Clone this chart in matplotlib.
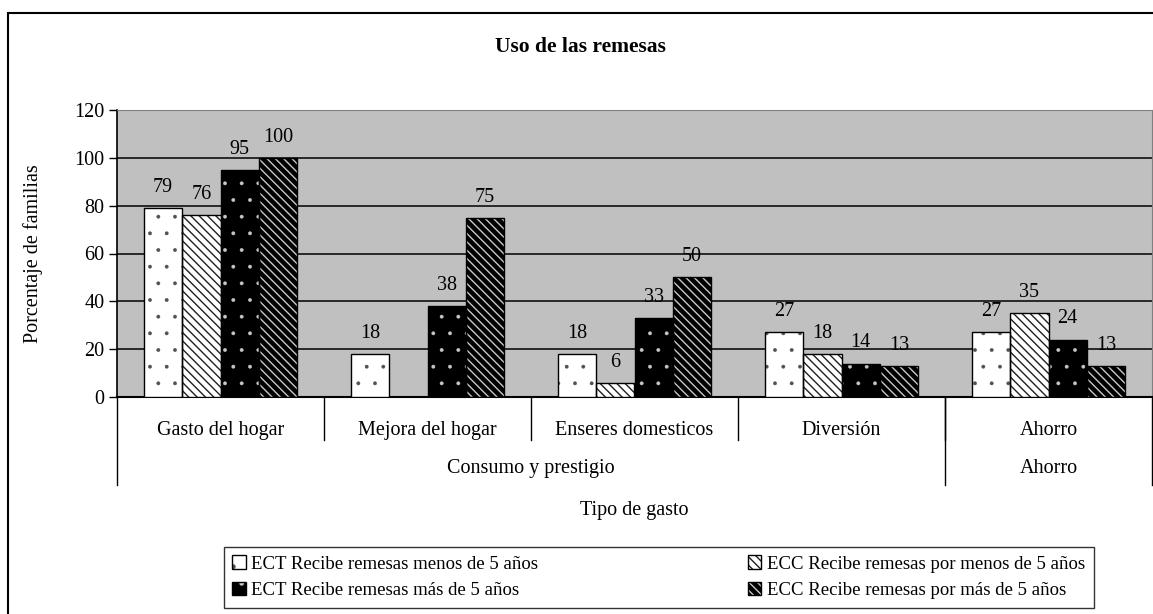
import numpy as np
import matplotlib
matplotlib.use("Agg")
import matplotlib.pyplot as plt
from matplotlib.patches import Patch, Rectangle
from matplotlib.legend_handler import HandlerTuple

# ---- data ----
categories = ["Gasto del hogar", "Mejora del hogar", "Enseres domesticos", "Diversión", "Ahorro"]
groups = [("Consumo y prestigio", 0, 3), ("Ahorro", 4, 4)]
series_names = [
    "ECT Recibe remesas menos de 5 años",
    "ECC Recibe remesas por menos de 5 años",
    "ECT Recibe remesas más de 5 años",
    "ECC Recibe remesas por más de 5 años",
]
ect_menos5 = [79, 18, 18, 27, 27]
ecc_menos5 = [76, np.nan, 6, 18, 35]
ect_mas5 = [95, 38, 33, 14, 24]
ecc_mas5 = [100, 75, 50, 13, 13]
yticks = [0, 20, 40, 60, 80, 100, 120]

series = [ect_menos5, ecc_menos5, ect_mas5, ecc_mas5]
# style: (face, hatch colour, hatch, hatch linewidth)
styles = [
    ("white", "#505050", ".", 0.3),
    ("white", "#202020", "\\\\\\\\", 1.0),
    ("black", "#c8c8c8", ".", 0.3),
    ("black", "#c8c8c8", "\\\\\\\\", 1.0),
]

plt.rcParams["font.family"] = ["Liberation Serif", "DejaVu Serif"]
FS = 14.5

W, H = 1153, 614
fig = plt.figure(figsize=(W / 100, H / 100), dpi=100)
ax = fig.add_axes([117 / W, 1 - 397 / H, (1152 - 117) / W, (397 - 110) / H])
ax.set_facecolor("#c0c0c0")

x = np.arange(len(categories))
bw = 0.185
offsets = (np.arange(4) - 1.5) * bw
handles = []
for vals, off, (fc, hc, hatch, hlw) in zip(series, offsets, styles):
    v = np.array(vals, dtype=float)
    with plt.rc_context({"hatch.linewidth": hlw}):
        bars = ax.bar(x + off, v, bw, color=fc, edgecolor=hc, hatch=hatch, linewidth=0, zorder=3)
        hp = Patch(facecolor=fc, edgecolor=hc, hatch=hatch, linewidth=0)
    for b in list(bars) + [hp]:
        if hasattr(b, "set_hatch_linewidth"):
            b.set_hatch_linewidth(hlw)
    ax.bar(x + off, v, bw, fill=False, edgecolor="black", linewidth=1.0, zorder=4)
    for xi, vi in zip(x + off, v):
        if not np.isnan(vi):
            ax.annotate(f"{vi:.0f}", (xi, vi), xytext=(0, 8), textcoords="offset points",
                        ha="center", va="bottom", fontsize=FS, zorder=5)
    handles.append((hp, Patch(fill=False, edgecolor="black", linewidth=1.0)))

ax.set_xlim(-0.5, len(categories) - 0.5)
ax.set_ylim(0, 120)
ax.set_yticks(yticks)
ax.tick_params(axis="y", labelsize=FS, length=6, width=1, direction="out", pad=3)
ax.set_xticks([])
ax.yaxis.grid(True, color="black", linewidth=1.1, zorder=1)
ax.set_axisbelow(True)
for s in ["top", "right"]:
    ax.spines[s].set_color("#808080")
ax.spines["left"].set_linewidth(1.2)
ax.spines["bottom"].set_linewidth(1.5)

ax.set_ylabel("Porcentaje de familias", fontsize=FS)
ax.yaxis.set_label_coords(-0.0715, 0.5)

# category table below axis
tr = ax.get_xaxis_transform()
row1, row2 = -0.116, -0.250
inner_bot, outer_bot = -0.150, -0.307
for i, c in enumerate(categories):
    ax.text(i, row1, c, transform=tr, ha="center", va="center", fontsize=FS)
for b in np.arange(0.5, len(categories) - 1, 1.0):
    ax.plot([b, b], [0, inner_bot], transform=tr, color="black", lw=1, clip_on=False)
outer = {-0.5, len(categories) - 0.5}
for name, a, bnd in groups:
    ax.text((a + bnd) / 2, row2, name, transform=tr, ha="center", va="center", fontsize=FS)
    outer.add(a - 0.5)
    outer.add(bnd + 0.5)
for b in sorted(outer):
    ax.plot([b, b], [0, outer_bot], transform=tr, color="black", lw=1, clip_on=False)

ax.text(0.5, -0.394, "Tipo de gasto", transform=ax.transAxes, ha="center", va="center", fontsize=FS)

fig.text(580 / W, 1 - 47 / H, "Uso de las remesas", ha="center", va="center",
         fontsize=15.5, fontweight="bold")

# outer chart border (top and left visible)
fig.patches.append(Rectangle((8 / W, -0.2), 1.5, 1.2 - 13 / H, transform=fig.transFigure,
                             fill=False, edgecolor="black", linewidth=1.5))

# legend: row-wise order (series 1, 2 on first row; 3, 4 on second)
LFS = 13.5
order = [0, 2, 1, 3]
leg = fig.legend([handles[i] for i in order], [series_names[i] for i in order],
                 ncol=2, loc="upper left",
                 bbox_to_anchor=(224 / W, 1 - 547 / H), fontsize=LFS,
                 frameon=True, fancybox=False, edgecolor="black",
                 handlelength=0.7, handleheight=0.7, handletextpad=0.3,
                 columnspacing=11.2, borderpad=0.45, labelspacing=0.5,
                 borderaxespad=0,
                 handler_map={tuple: HandlerTuple(ndivide=1)})
leg.get_frame().set_linewidth(1.0)

fig.savefig("out.png", dpi=100)
